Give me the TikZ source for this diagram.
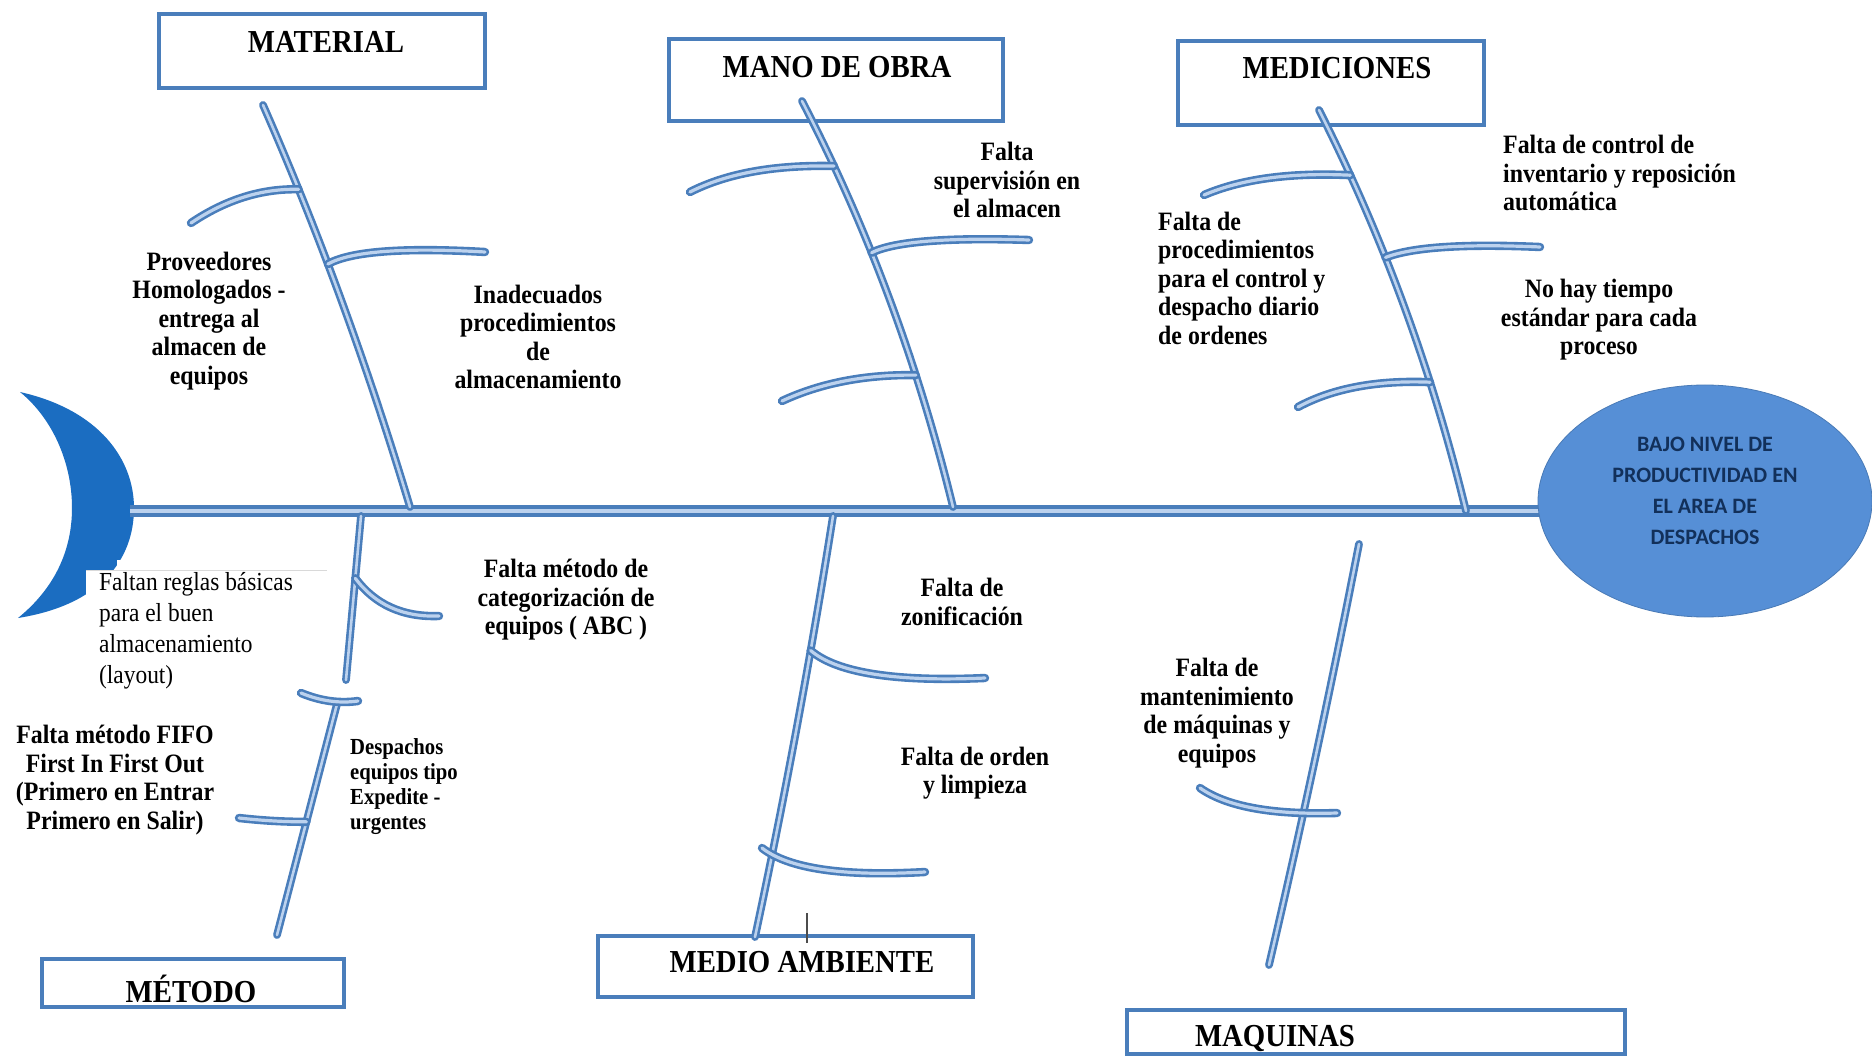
\documentclass[tikz,border=0pt]{standalone}
\usepackage{fontspec}
\setmainfont{Liberation Serif}
\newfontfamily\rf[FakeStretch=0.9]{Liberation Serif}
\newfontfamily\cf{Carlito}
\usetikzlibrary{shapes.geometric,calc}
\definecolor{bl}{HTML}{4A7EBB}
\definecolor{blin}{HTML}{BCD2EE}
\definecolor{headc}{HTML}{1B6DC1}
\definecolor{effc}{HTML}{568FD6}
\definecolor{efft}{HTML}{12305A}
\tikzset{
 catbox/.style={draw=bl, line width=3.5pt, fill=white, rectangle, inner sep=0pt},
 cattitle/.style={font=\rf\bfseries\fontsize{32}{34}\selectfont, inner sep=0pt},
 cause/.style={font=\rf\bfseries\fontsize{26.5}{28.5}\selectfont, align=center, inner sep=0pt},
 causel/.style={cause, align=left, anchor=west},
 spinest/.style={draw=bl, line width=3.4pt, double=blin, double distance=4.5pt},
 bonest/.style={draw=bl, line width=2.6pt, double=blin, double distance=2.6pt, line cap=round},
 ribst/.style={draw=bl, line width=2.6pt, double=blin, double distance=3.2pt, line cap=round},
}
\begin{document}
\begin{tikzpicture}[x=1pt,y=-1pt]
\useasboundingbox (0,0) rectangle (1872,1056);
\fill[white] (0,0) rectangle (1872,1056);

% head (crescent)
\fill[headc] (20,392) .. controls (100,410) and (134,460) .. (134,508)
  .. controls (134,560) and (100,605) .. (18,618)
  .. controls (55,588) and (72,550) .. (72,508)
  .. controls (72,462) and (52,418) .. (20,392) -- cycle;
\fill[white] (86,570) rectangle (330,700);
\fill[white] (117,560) rectangle (140,571);
\draw[black!15, line width=1pt] (86,570) -- (327,570);

% category boxes
\node[catbox, minimum width=326pt, minimum height=74pt] (matbox) at (322,51) {};
\node[catbox, minimum width=334pt, minimum height=82pt] (manbox) at (836,80) {};
\node[catbox, minimum width=306pt, minimum height=84pt] (medbox) at (1331,83) {};
\node[catbox, minimum width=302pt, minimum height=48pt] (metbox) at (193,983) {};
\node[catbox, minimum width=375pt, minimum height=61pt] (ambbox) at (785.5,966.5) {};
\node[catbox, minimum width=498pt, minimum height=44pt] (maqbox) at (1376,1032) {};

\node[cattitle] (mattit) at (326,42) {MATERIAL};
\node[cattitle] (mantit) at (837,67) {MANO DE OBRA};
\node[cattitle] (medtit) at (1337,68) {MEDICIONES};
\node[cattitle] (mettit) at (191,989) {MÉTODO};
\node[cattitle] (ambtit) at (802,962) {MEDIO AMBIENTE};
\node[cattitle] (maqtit) at (1275,1038) {MAQUINAS};

% spine
\coordinate (hd) at (130,511);
\coordinate (spe) at (1545,511);
\draw[spinest] (hd) -- (spe);

% effect
\node[ellipse, fill=effc, draw=effc!85!black, line width=0.8pt, minimum width=334pt, minimum height=232pt, inner sep=0pt] (eff) at (1705,501) {};
\node[font=\cf\bfseries\fontsize{22}{31}\selectfont, text=efft, align=center, inner sep=0pt] (efftxt) at (1705,491)
 {BAJO NIVEL DE\\PRODUCTIVIDAD EN\\EL AREA DE\\DESPACHOS};

% bone end points and bend points
\coordinate (mt) at (263,105);  \coordinate (mb) at (410,507);  \coordinate (mc) at (346,294);
\coordinate (ot) at (802,101);  \coordinate (ob) at (953,507);  \coordinate (oc) at (900,290);
\coordinate (dt) at (1319,110); \coordinate (db) at (1466,511); \coordinate (dc) at (1415,300);
\coordinate (tu1) at (361,516); \coordinate (tu2) at (346,680);
\coordinate (tl1) at (337,704); \coordinate (tl2) at (277,935);
\coordinate (at) at (833,516);  \coordinate (ab) at (755,937);  \coordinate (ac) at (800,726);
\coordinate (qt) at (1359,544); \coordinate (qb) at (1269,965); \coordinate (qc) at (1318,755);

% bones
\draw[bonest] (mt) .. controls ($(mt)!0.6667!(mc)$) and ($(mb)!0.6667!(mc)$) .. (mb)
  coordinate[pos=0.22] (mj1) coordinate[pos=0.41] (mj2);
\draw[bonest] (ot) .. controls ($(ot)!0.6667!(oc)$) and ($(ob)!0.6667!(oc)$) .. (ob)
  coordinate[pos=0.17] (oj1) coordinate[pos=0.39] (oj2) coordinate[pos=0.69] (oj3);
\draw[bonest] (dt) .. controls ($(dt)!0.6667!(dc)$) and ($(db)!0.6667!(dc)$) .. (db)
  coordinate[pos=0.17] (dj1) coordinate[pos=0.38] (dj2) coordinate[pos=0.69] (dj3);
\draw[bonest] (tu1) -- (tu2) coordinate[pos=0.38] (tj1);
\draw[bonest] (tl1) -- (tl2) coordinate[pos=0.51] (tj2);
\draw[bonest] (at) .. controls ($(at)!0.6667!(ac)$) and ($(ab)!0.6667!(ac)$) .. (ab)
  coordinate[pos=0.32] (aj1);
\draw[bonest] (qt) .. controls ($(qt)!0.6667!(qc)$) and ($(qb)!0.6667!(qc)$) .. (qb);

% rib free ends and bend points
\coordinate (me1) at (191,223);  \coordinate (mk1) at (243,188);
\coordinate (me2) at (485,252);  \coordinate (mk2) at (362,245);
\coordinate (oe1) at (690,192);  \coordinate (ok1) at (745,164);
\coordinate (oe2) at (1029,240); \coordinate (ok2) at (905,236);
\coordinate (oe3) at (782,401);  \coordinate (ok3) at (840,374);
\coordinate (de1) at (1204,195); \coordinate (dk1) at (1260,171);
\coordinate (de2) at (1540,247); \coordinate (dk2) at (1425,242);
\coordinate (de3) at (1298,407); \coordinate (dk3) at (1350,379);
\coordinate (te1) at (439,616);  \coordinate (tk1) at (385,618);
\coordinate (tt1) at (301,693);  \coordinate (tt2) at (358,701); \coordinate (tk2) at (330,705);
\coordinate (te2) at (239,818);  \coordinate (tk3) at (275,822);
\coordinate (ae1) at (985,678);  \coordinate (ak1) at (850,684);
\coordinate (al1) at (762,848);  \coordinate (al2) at (925,872); \coordinate (ak2) at (802,879);
\coordinate (ql1) at (1200,788); \coordinate (ql2) at (1337,813); \coordinate (qk1) at (1240,816);

% ribs (quadratic arcs)
\draw[ribst] (mj1) .. controls ($(mj1)!0.6667!(mk1)$) and ($(me1)!0.6667!(mk1)$) .. (me1);
\draw[ribst] (mj2) .. controls ($(mj2)!0.6667!(mk2)$) and ($(me2)!0.6667!(mk2)$) .. (me2);
\draw[ribst] (oj1) .. controls ($(oj1)!0.6667!(ok1)$) and ($(oe1)!0.6667!(ok1)$) .. (oe1);
\draw[ribst] (oj2) .. controls ($(oj2)!0.6667!(ok2)$) and ($(oe2)!0.6667!(ok2)$) .. (oe2);
\draw[ribst] (oj3) .. controls ($(oj3)!0.6667!(ok3)$) and ($(oe3)!0.6667!(ok3)$) .. (oe3);
\draw[ribst] (dj1) .. controls ($(dj1)!0.6667!(dk1)$) and ($(de1)!0.6667!(dk1)$) .. (de1);
\draw[ribst] (dj2) .. controls ($(dj2)!0.6667!(dk2)$) and ($(de2)!0.6667!(dk2)$) .. (de2);
\draw[ribst] (dj3) .. controls ($(dj3)!0.6667!(dk3)$) and ($(de3)!0.6667!(dk3)$) .. (de3);
\draw[ribst] (tj1) .. controls ($(tj1)!0.6667!(tk1)$) and ($(te1)!0.6667!(tk1)$) .. (te1);
\draw[ribst] (tt1) .. controls ($(tt1)!0.6667!(tk2)$) and ($(tt2)!0.6667!(tk2)$) .. (tt2);
\draw[ribst] (te2) .. controls ($(te2)!0.6667!(tk3)$) and ($(tj2)!0.6667!(tk3)$) .. (tj2);
\draw[ribst] (aj1) .. controls ($(aj1)!0.6667!(ak1)$) and ($(ae1)!0.6667!(ak1)$) .. (ae1);
\draw[ribst] (al1) .. controls ($(al1)!0.6667!(ak2)$) and ($(al2)!0.6667!(ak2)$) .. (al2);
\draw[ribst] (ql1) .. controls ($(ql1)!0.6667!(qk1)$) and ($(ql2)!0.6667!(qk1)$) .. (ql2);

% small tick
\coordinate (tick1) at (807,913); \coordinate (tick2) at (807,943);
\draw[black!70, line width=1.2pt] (tick1) -- (tick2);

% causes
\node[cause] (c1) at (209,321) {Proveedores\\Homologados -\\entrega al\\almacen de\\equipos};
\node[cause] (c2) at (538,337) {Inadecuados\\procedimientos\\de\\almacenamiento};
\node[cause] (c3) at (1007,180) {Falta\\supervisión en\\el almacen};
\node[causel] (c4) at (1158,278) {Falta de\\procedimientos\\para el control y\\despacho diario\\de ordenes};
\node[causel] (c5) at (1503,173) {Falta de control de\\inventario y reposición\\automática};
\node[cause] (c6) at (1599,320) {No hay tiempo\\estándar para cada\\proceso};
\node[font=\rf\fontsize{26}{31}\selectfont, align=left, anchor=west, inner sep=0pt] (c7) at (99,631)
 {Faltan reglas básicas\\para el buen\\almacenamiento\\(layout)};
\node[cause] (c8) at (566,600) {Falta método de\\categorización de\\equipos ( ABC )};
\node[cause] (c9) at (115,780) {Falta método FIFO\\First In First Out\\(Primero en Entrar\\Primero en Salir)};
\node[causel, font=\rf\bfseries\fontsize{23}{25}\selectfont] (c10) at (350,787) {Despachos\\equipos tipo\\Expedite -\\urgentes};
\node[cause] (c11) at (962,602) {Falta de\\zonificación};
\node[cause] (c12) at (975,773) {Falta de orden\\y limpieza};
\node[cause] (c13) at (1217,713) {Falta de\\mantenimiento\\de máquinas y\\equipos};
\end{tikzpicture}
\end{document}
